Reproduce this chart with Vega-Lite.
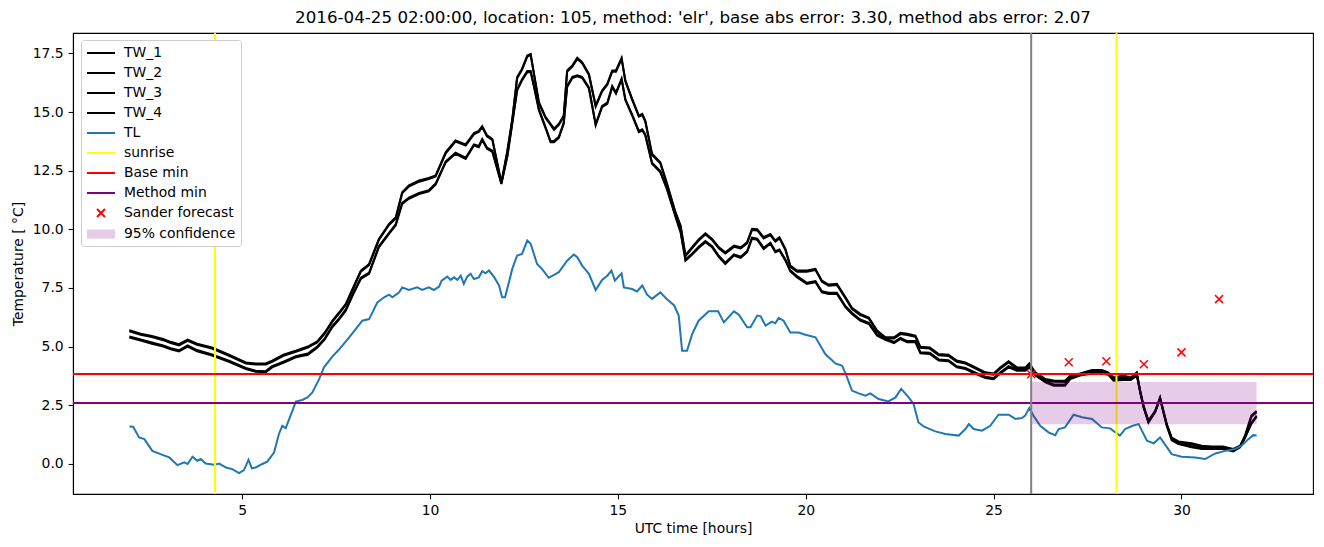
{
  "$schema": "https://vega.github.io/schema/vega-lite/v6.json",
  "width": 1240,
  "height": 461,
  "autosize": {"type": "none"},
  "padding": {"left": 73, "top": 33, "right": 11, "bottom": 53},
  "background": "white",
  "title": {
    "text": "2016-04-25 02:00:00, location: 105, method: 'elr', base abs error: 3.30, method abs error: 2.07",
    "font": "DejaVu Sans",
    "fontSize": 16.7,
    "fontWeight": "normal",
    "color": "black",
    "anchor": "middle",
    "offset": 5
  },
  "config": {
    "font": "DejaVu Sans",
    "view": {"stroke": "black", "strokeWidth": 1.1},
    "axis": {
      "grid": false,
      "labelFont": "DejaVu Sans",
      "labelFontSize": 13.9,
      "labelColor": "black",
      "titleFont": "DejaVu Sans",
      "titleFontSize": 13.9,
      "titleFontWeight": "normal",
      "titleColor": "black",
      "tickColor": "black",
      "tickSize": 4.9,
      "tickWidth": 1.1,
      "domainColor": "black",
      "domainWidth": 1.1,
      "labelPadding": 4.9
    }
  },
  "datasets": {
    "tw": [
      {"t":2.0,"TW_1":5.70,"TW_2":5.65,"TW_3":5.43,"TW_4":5.38},
      {"t":2.3,"TW_1":5.55,"TW_2":5.50,"TW_3":5.30,"TW_4":5.25},
      {"t":2.6,"TW_1":5.45,"TW_2":5.40,"TW_3":5.17,"TW_4":5.12},
      {"t":2.9,"TW_1":5.32,"TW_2":5.27,"TW_3":5.05,"TW_4":5.00},
      {"t":3.1,"TW_1":5.20,"TW_2":5.15,"TW_3":4.93,"TW_4":4.88},
      {"t":3.32,"TW_1":5.10,"TW_2":5.05,"TW_3":4.84,"TW_4":4.79},
      {"t":3.55,"TW_1":5.29,"TW_2":5.24,"TW_3":5.05,"TW_4":5.00},
      {"t":3.8,"TW_1":5.12,"TW_2":5.07,"TW_3":4.85,"TW_4":4.80},
      {"t":4.2,"TW_1":4.96,"TW_2":4.91,"TW_3":4.66,"TW_4":4.61},
      {"t":4.65,"TW_1":4.65,"TW_2":4.60,"TW_3":4.40,"TW_4":4.35},
      {"t":5.1,"TW_1":4.32,"TW_2":4.27,"TW_3":4.09,"TW_4":4.04},
      {"t":5.36,"TW_1":4.28,"TW_2":4.23,"TW_3":3.97,"TW_4":3.92},
      {"t":5.63,"TW_1":4.28,"TW_2":4.23,"TW_3":3.95,"TW_4":3.90},
      {"t":5.8,"TW_1":4.40,"TW_2":4.35,"TW_3":4.16,"TW_4":4.11},
      {"t":6.1,"TW_1":4.65,"TW_2":4.60,"TW_3":4.35,"TW_4":4.30},
      {"t":6.43,"TW_1":4.82,"TW_2":4.77,"TW_3":4.59,"TW_4":4.54},
      {"t":6.75,"TW_1":5.00,"TW_2":4.95,"TW_3":4.70,"TW_4":4.65},
      {"t":7.0,"TW_1":5.22,"TW_2":5.17,"TW_3":5.00,"TW_4":4.95},
      {"t":7.2,"TW_1":5.60,"TW_2":5.55,"TW_3":5.35,"TW_4":5.30},
      {"t":7.4,"TW_1":6.10,"TW_2":6.05,"TW_3":5.87,"TW_4":5.82},
      {"t":7.58,"TW_1":6.45,"TW_2":6.40,"TW_3":6.20,"TW_4":6.15},
      {"t":7.76,"TW_1":6.82,"TW_2":6.77,"TW_3":6.58,"TW_4":6.53},
      {"t":7.95,"TW_1":7.50,"TW_2":7.45,"TW_3":7.25,"TW_4":7.20},
      {"t":8.16,"TW_1":8.24,"TW_2":8.19,"TW_3":7.93,"TW_4":7.88},
      {"t":8.38,"TW_1":8.52,"TW_2":8.47,"TW_3":8.15,"TW_4":8.10},
      {"t":8.64,"TW_1":9.59,"TW_2":9.54,"TW_3":9.28,"TW_4":9.23},
      {"t":8.91,"TW_1":10.23,"TW_2":10.18,"TW_3":9.85,"TW_4":9.80},
      {"t":9.09,"TW_1":10.51,"TW_2":10.46,"TW_3":10.22,"TW_4":10.17},
      {"t":9.26,"TW_1":11.58,"TW_2":11.53,"TW_3":11.13,"TW_4":11.08},
      {"t":9.44,"TW_1":11.87,"TW_2":11.82,"TW_3":11.35,"TW_4":11.30},
      {"t":9.71,"TW_1":12.08,"TW_2":12.03,"TW_3":11.55,"TW_4":11.50},
      {"t":9.97,"TW_1":12.19,"TW_2":12.14,"TW_3":11.67,"TW_4":11.62},
      {"t":10.15,"TW_1":12.30,"TW_2":12.25,"TW_3":11.95,"TW_4":11.90},
      {"t":10.42,"TW_1":13.29,"TW_2":13.24,"TW_3":12.90,"TW_4":12.85},
      {"t":10.68,"TW_1":13.79,"TW_2":13.74,"TW_3":13.27,"TW_4":13.22},
      {"t":10.95,"TW_1":13.62,"TW_2":13.57,"TW_3":13.05,"TW_4":13.00},
      {"t":11.17,"TW_1":14.10,"TW_2":14.05,"TW_3":13.62,"TW_4":13.57},
      {"t":11.3,"TW_1":14.20,"TW_2":14.15,"TW_3":13.55,"TW_4":13.50},
      {"t":11.39,"TW_1":14.40,"TW_2":14.35,"TW_3":13.85,"TW_4":13.80},
      {"t":11.52,"TW_1":14.00,"TW_2":13.95,"TW_3":13.48,"TW_4":13.43},
      {"t":11.66,"TW_1":13.86,"TW_2":13.81,"TW_3":13.35,"TW_4":13.30},
      {"t":11.9,"TW_1":12.00,"TW_2":11.95,"TW_3":11.98,"TW_4":11.93},
      {"t":12.06,"TW_1":13.36,"TW_2":13.31,"TW_3":13.15,"TW_4":13.10},
      {"t":12.19,"TW_1":14.70,"TW_2":14.65,"TW_3":14.55,"TW_4":14.50},
      {"t":12.32,"TW_1":16.49,"TW_2":16.44,"TW_3":15.97,"TW_4":15.92},
      {"t":12.45,"TW_1":16.85,"TW_2":16.80,"TW_3":16.40,"TW_4":16.35},
      {"t":12.59,"TW_1":17.41,"TW_2":17.36,"TW_3":16.75,"TW_4":16.70},
      {"t":12.68,"TW_1":17.48,"TW_2":17.43,"TW_3":16.75,"TW_4":16.70},
      {"t":12.77,"TW_1":16.63,"TW_2":16.58,"TW_3":16.11,"TW_4":16.06},
      {"t":12.9,"TW_1":15.42,"TW_2":15.37,"TW_3":15.12,"TW_4":15.07},
      {"t":13.08,"TW_1":14.78,"TW_2":14.73,"TW_3":14.34,"TW_4":14.29},
      {"t":13.21,"TW_1":14.50,"TW_2":14.45,"TW_3":13.76,"TW_4":13.71},
      {"t":13.3,"TW_1":14.29,"TW_2":14.24,"TW_3":13.76,"TW_4":13.71},
      {"t":13.43,"TW_1":14.50,"TW_2":14.45,"TW_3":13.95,"TW_4":13.90},
      {"t":13.56,"TW_1":14.85,"TW_2":14.80,"TW_3":14.55,"TW_4":14.50},
      {"t":13.65,"TW_1":16.77,"TW_2":16.72,"TW_3":16.11,"TW_4":16.06},
      {"t":13.79,"TW_1":16.99,"TW_2":16.94,"TW_3":16.50,"TW_4":16.45},
      {"t":13.92,"TW_1":17.31,"TW_2":17.26,"TW_3":16.57,"TW_4":16.52},
      {"t":14.05,"TW_1":17.13,"TW_2":17.08,"TW_3":16.50,"TW_4":16.45},
      {"t":14.23,"TW_1":16.63,"TW_2":16.58,"TW_3":16.05,"TW_4":16.00},
      {"t":14.41,"TW_1":15.28,"TW_2":15.23,"TW_3":14.48,"TW_4":14.43},
      {"t":14.58,"TW_1":15.92,"TW_2":15.87,"TW_3":15.26,"TW_4":15.21},
      {"t":14.72,"TW_1":16.21,"TW_2":16.16,"TW_3":15.40,"TW_4":15.35},
      {"t":14.85,"TW_1":16.77,"TW_2":16.72,"TW_3":16.11,"TW_4":16.06},
      {"t":14.95,"TW_1":16.77,"TW_2":16.72,"TW_3":15.83,"TW_4":15.78},
      {"t":15.1,"TW_1":17.31,"TW_2":17.26,"TW_3":16.43,"TW_4":16.38},
      {"t":15.2,"TW_1":16.35,"TW_2":16.30,"TW_3":15.55,"TW_4":15.50},
      {"t":15.38,"TW_1":15.57,"TW_2":15.52,"TW_3":14.90,"TW_4":14.85},
      {"t":15.56,"TW_1":14.85,"TW_2":14.80,"TW_3":14.19,"TW_4":14.14},
      {"t":15.65,"TW_1":14.92,"TW_2":14.87,"TW_3":14.26,"TW_4":14.21},
      {"t":15.73,"TW_1":14.64,"TW_2":14.59,"TW_3":14.05,"TW_4":14.00},
      {"t":15.91,"TW_1":13.22,"TW_2":13.17,"TW_3":12.84,"TW_4":12.79},
      {"t":16.13,"TW_1":12.86,"TW_2":12.81,"TW_3":12.48,"TW_4":12.43},
      {"t":16.31,"TW_1":11.95,"TW_2":11.90,"TW_3":11.74,"TW_4":11.69},
      {"t":16.53,"TW_1":10.75,"TW_2":10.70,"TW_3":10.60,"TW_4":10.55},
      {"t":16.67,"TW_1":10.16,"TW_2":10.11,"TW_3":9.92,"TW_4":9.87},
      {"t":16.8,"TW_1":8.90,"TW_2":8.85,"TW_3":8.71,"TW_4":8.66},
      {"t":16.98,"TW_1":9.25,"TW_2":9.20,"TW_3":8.97,"TW_4":8.92},
      {"t":17.15,"TW_1":9.57,"TW_2":9.52,"TW_3":9.25,"TW_4":9.20},
      {"t":17.33,"TW_1":9.83,"TW_2":9.78,"TW_3":9.50,"TW_4":9.45},
      {"t":17.51,"TW_1":9.59,"TW_2":9.54,"TW_3":9.28,"TW_4":9.23},
      {"t":17.69,"TW_1":9.23,"TW_2":9.18,"TW_3":8.86,"TW_4":8.81},
      {"t":17.86,"TW_1":9.02,"TW_2":8.97,"TW_3":8.57,"TW_4":8.52},
      {"t":18.09,"TW_1":9.30,"TW_2":9.25,"TW_3":8.93,"TW_4":8.88},
      {"t":18.27,"TW_1":9.23,"TW_2":9.18,"TW_3":8.83,"TW_4":8.78},
      {"t":18.44,"TW_1":9.45,"TW_2":9.40,"TW_3":9.07,"TW_4":9.02},
      {"t":18.57,"TW_1":10.02,"TW_2":9.97,"TW_3":9.64,"TW_4":9.59},
      {"t":18.71,"TW_1":10.00,"TW_2":9.95,"TW_3":9.60,"TW_4":9.55},
      {"t":18.88,"TW_1":9.66,"TW_2":9.61,"TW_3":9.21,"TW_4":9.16},
      {"t":19.06,"TW_1":9.80,"TW_2":9.75,"TW_3":9.43,"TW_4":9.38},
      {"t":19.19,"TW_1":9.52,"TW_2":9.47,"TW_3":9.07,"TW_4":9.02},
      {"t":19.3,"TW_1":9.66,"TW_2":9.61,"TW_3":9.14,"TW_4":9.09},
      {"t":19.46,"TW_1":9.16,"TW_2":9.11,"TW_3":8.71,"TW_4":8.66},
      {"t":19.59,"TW_1":8.45,"TW_2":8.40,"TW_3":8.25,"TW_4":8.20},
      {"t":19.77,"TW_1":8.24,"TW_2":8.19,"TW_3":8.00,"TW_4":7.95},
      {"t":20.03,"TW_1":8.24,"TW_2":8.19,"TW_3":7.72,"TW_4":7.67},
      {"t":20.26,"TW_1":8.31,"TW_2":8.26,"TW_3":7.79,"TW_4":7.74},
      {"t":20.43,"TW_1":7.81,"TW_2":7.76,"TW_3":7.36,"TW_4":7.31},
      {"t":20.61,"TW_1":7.64,"TW_2":7.59,"TW_3":7.29,"TW_4":7.24},
      {"t":20.83,"TW_1":7.67,"TW_2":7.62,"TW_3":7.29,"TW_4":7.24},
      {"t":21.06,"TW_1":7.10,"TW_2":7.05,"TW_3":6.72,"TW_4":6.67},
      {"t":21.23,"TW_1":6.65,"TW_2":6.60,"TW_3":6.44,"TW_4":6.39},
      {"t":21.45,"TW_1":6.39,"TW_2":6.34,"TW_3":6.15,"TW_4":6.10},
      {"t":21.68,"TW_1":6.24,"TW_2":6.19,"TW_3":6.01,"TW_4":5.96},
      {"t":21.9,"TW_1":5.68,"TW_2":5.63,"TW_3":5.51,"TW_4":5.46},
      {"t":22.12,"TW_1":5.39,"TW_2":5.34,"TW_3":5.33,"TW_4":5.28},
      {"t":22.35,"TW_1":5.39,"TW_2":5.34,"TW_3":5.19,"TW_4":5.14},
      {"t":22.52,"TW_1":5.58,"TW_2":5.53,"TW_3":5.37,"TW_4":5.32},
      {"t":22.7,"TW_1":5.54,"TW_2":5.49,"TW_3":5.23,"TW_4":5.18},
      {"t":22.92,"TW_1":5.46,"TW_2":5.41,"TW_3":5.23,"TW_4":5.18},
      {"t":23.05,"TW_1":4.99,"TW_2":4.94,"TW_3":4.76,"TW_4":4.71},
      {"t":23.3,"TW_1":4.96,"TW_2":4.91,"TW_3":4.73,"TW_4":4.68},
      {"t":23.54,"TW_1":4.68,"TW_2":4.63,"TW_3":4.45,"TW_4":4.40},
      {"t":23.8,"TW_1":4.65,"TW_2":4.60,"TW_3":4.42,"TW_4":4.37},
      {"t":24.02,"TW_1":4.40,"TW_2":4.35,"TW_3":4.16,"TW_4":4.11},
      {"t":24.25,"TW_1":4.32,"TW_2":4.27,"TW_3":4.09,"TW_4":4.04},
      {"t":24.52,"TW_1":4.11,"TW_2":4.06,"TW_3":3.88,"TW_4":3.83},
      {"t":24.78,"TW_1":3.90,"TW_2":3.85,"TW_3":3.71,"TW_4":3.66},
      {"t":25.0,"TW_1":3.85,"TW_2":3.80,"TW_3":3.66,"TW_4":3.61},
      {"t":25.18,"TW_1":4.11,"TW_2":4.06,"TW_3":3.90,"TW_4":3.85},
      {"t":25.4,"TW_1":4.37,"TW_2":4.32,"TW_3":4.16,"TW_4":4.11},
      {"t":25.62,"TW_1":4.11,"TW_2":4.06,"TW_3":4.02,"TW_4":3.97},
      {"t":25.85,"TW_1":4.11,"TW_2":4.06,"TW_3":4.02,"TW_4":3.97},
      {"t":25.95,"TW_1":4.28,"TW_2":4.23,"TW_3":4.16,"TW_4":4.11},
      {"t":26.11,"TW_1":3.90,"TW_2":3.85,"TW_3":3.81,"TW_4":3.76},
      {"t":26.38,"TW_1":3.61,"TW_2":3.56,"TW_3":3.52,"TW_4":3.47},
      {"t":26.6,"TW_1":3.55,"TW_2":3.50,"TW_3":3.38,"TW_4":3.33},
      {"t":26.9,"TW_1":3.54,"TW_2":3.49,"TW_3":3.38,"TW_4":3.33},
      {"t":27.04,"TW_1":3.76,"TW_2":3.71,"TW_3":3.66,"TW_4":3.61},
      {"t":27.3,"TW_1":3.85,"TW_2":3.80,"TW_3":3.81,"TW_4":3.76},
      {"t":27.62,"TW_1":4.00,"TW_2":3.95,"TW_3":3.90,"TW_4":3.85},
      {"t":27.88,"TW_1":4.00,"TW_2":3.95,"TW_3":3.90,"TW_4":3.85},
      {"t":28.05,"TW_1":3.90,"TW_2":3.85,"TW_3":3.85,"TW_4":3.80},
      {"t":28.19,"TW_1":3.68,"TW_2":3.63,"TW_3":3.59,"TW_4":3.54},
      {"t":28.45,"TW_1":3.76,"TW_2":3.71,"TW_3":3.62,"TW_4":3.57},
      {"t":28.65,"TW_1":3.68,"TW_2":3.63,"TW_3":3.62,"TW_4":3.57},
      {"t":28.81,"TW_1":3.90,"TW_2":3.85,"TW_3":3.81,"TW_4":3.76},
      {"t":28.9,"TW_1":3.12,"TW_2":3.07,"TW_3":3.10,"TW_4":3.05},
      {"t":28.99,"TW_1":2.48,"TW_2":2.43,"TW_3":2.45,"TW_4":2.40},
      {"t":29.12,"TW_1":1.84,"TW_2":1.79,"TW_3":1.80,"TW_4":1.75},
      {"t":29.3,"TW_1":2.26,"TW_2":2.21,"TW_3":2.25,"TW_4":2.20},
      {"t":29.43,"TW_1":2.83,"TW_2":2.78,"TW_3":2.81,"TW_4":2.76},
      {"t":29.61,"TW_1":1.69,"TW_2":1.64,"TW_3":1.65,"TW_4":1.60},
      {"t":29.74,"TW_1":1.12,"TW_2":1.07,"TW_3":1.05,"TW_4":1.00},
      {"t":29.92,"TW_1":0.95,"TW_2":0.90,"TW_3":0.89,"TW_4":0.84},
      {"t":30.27,"TW_1":0.87,"TW_2":0.82,"TW_3":0.75,"TW_4":0.70},
      {"t":30.54,"TW_1":0.77,"TW_2":0.72,"TW_3":0.68,"TW_4":0.63},
      {"t":30.8,"TW_1":0.74,"TW_2":0.69,"TW_3":0.68,"TW_4":0.63},
      {"t":31.1,"TW_1":0.74,"TW_2":0.69,"TW_3":0.68,"TW_4":0.63},
      {"t":31.38,"TW_1":0.63,"TW_2":0.58,"TW_3":0.58,"TW_4":0.53},
      {"t":31.56,"TW_1":0.77,"TW_2":0.72,"TW_3":0.75,"TW_4":0.70},
      {"t":31.69,"TW_1":1.20,"TW_2":1.15,"TW_3":1.15,"TW_4":1.10},
      {"t":31.86,"TW_1":2.05,"TW_2":2.00,"TW_3":1.75,"TW_4":1.70},
      {"t":32.0,"TW_1":2.25,"TW_2":2.20,"TW_3":2.05,"TW_4":2.00}
    ],
    "tl": [
      {"t":2.0,"TL":1.59},{"t":2.1,"TL":1.58},{"t":2.26,"TL":1.12},{"t":2.4,"TL":1.05},
      {"t":2.61,"TL":0.55},{"t":2.88,"TL":0.38},{"t":3.06,"TL":0.27},{"t":3.28,"TL":-0.06},
      {"t":3.46,"TL":0.06},{"t":3.55,"TL":-0.01},{"t":3.68,"TL":0.30},{"t":3.81,"TL":0.13},
      {"t":3.9,"TL":0.20},{"t":4.03,"TL":0.01},{"t":4.26,"TL":-0.04},{"t":4.39,"TL":0.01},
      {"t":4.57,"TL":-0.16},{"t":4.74,"TL":-0.23},{"t":4.92,"TL":-0.40},{"t":5.05,"TL":-0.27},
      {"t":5.17,"TL":0.17},{"t":5.26,"TL":-0.20},{"t":5.36,"TL":-0.16},{"t":5.54,"TL":-0.01},
      {"t":5.67,"TL":0.09},{"t":5.85,"TL":0.48},{"t":5.98,"TL":1.27},{"t":6.07,"TL":1.62},
      {"t":6.16,"TL":1.52},{"t":6.29,"TL":2.05},{"t":6.43,"TL":2.65},{"t":6.6,"TL":2.72},
      {"t":6.74,"TL":2.83},{"t":6.87,"TL":3.04},{"t":7.05,"TL":3.61},{"t":7.18,"TL":4.11},
      {"t":7.4,"TL":4.57},{"t":7.58,"TL":4.87},{"t":7.85,"TL":5.39},{"t":8.2,"TL":6.10},
      {"t":8.38,"TL":6.17},{"t":8.6,"TL":6.88},{"t":8.78,"TL":7.10},{"t":8.91,"TL":7.21},
      {"t":9.0,"TL":7.10},{"t":9.18,"TL":7.31},{"t":9.26,"TL":7.52},{"t":9.44,"TL":7.41},
      {"t":9.66,"TL":7.52},{"t":9.79,"TL":7.41},{"t":9.97,"TL":7.52},{"t":10.1,"TL":7.41},
      {"t":10.24,"TL":7.55},{"t":10.31,"TL":7.81},{"t":10.46,"TL":7.98},{"t":10.55,"TL":7.84},
      {"t":10.64,"TL":7.95},{"t":10.73,"TL":7.84},{"t":10.82,"TL":8.02},{"t":10.9,"TL":7.67},
      {"t":10.99,"TL":7.98},{"t":11.08,"TL":8.10},{"t":11.17,"TL":7.88},{"t":11.3,"TL":7.95},
      {"t":11.39,"TL":8.21},{"t":11.48,"TL":8.12},{"t":11.57,"TL":8.24},{"t":11.7,"TL":7.98},
      {"t":11.84,"TL":7.60},{"t":11.92,"TL":7.10},{"t":12.0,"TL":7.10},{"t":12.19,"TL":8.31},
      {"t":12.32,"TL":8.88},{"t":12.45,"TL":8.95},{"t":12.59,"TL":9.52},{"t":12.68,"TL":9.38},
      {"t":12.85,"TL":8.52},{"t":12.98,"TL":8.31},{"t":13.16,"TL":7.93},{"t":13.43,"TL":8.17},
      {"t":13.65,"TL":8.66},{"t":13.83,"TL":8.92},{"t":13.92,"TL":8.81},{"t":14.05,"TL":8.45},
      {"t":14.23,"TL":8.10},{"t":14.41,"TL":7.41},{"t":14.58,"TL":7.84},{"t":14.72,"TL":8.02},
      {"t":14.83,"TL":8.24},{"t":14.92,"TL":7.81},{"t":15.1,"TL":8.12},{"t":15.16,"TL":7.52},
      {"t":15.38,"TL":7.45},{"t":15.51,"TL":7.35},{"t":15.65,"TL":7.60},{"t":15.78,"TL":7.21},
      {"t":15.91,"TL":7.03},{"t":16.13,"TL":7.31},{"t":16.3,"TL":7.03},{"t":16.5,"TL":6.75},
      {"t":16.62,"TL":6.32},{"t":16.71,"TL":4.82},{"t":16.84,"TL":4.82},{"t":16.98,"TL":5.54},
      {"t":17.15,"TL":6.10},{"t":17.42,"TL":6.50},{"t":17.67,"TL":6.50},{"t":17.82,"TL":6.03},
      {"t":18.09,"TL":6.50},{"t":18.22,"TL":6.36},{"t":18.44,"TL":5.82},{"t":18.53,"TL":5.82},
      {"t":18.71,"TL":6.32},{"t":18.8,"TL":6.29},{"t":18.93,"TL":5.89},{"t":19.1,"TL":6.06},
      {"t":19.19,"TL":5.99},{"t":19.28,"TL":6.22},{"t":19.41,"TL":6.10},{"t":19.59,"TL":5.60},
      {"t":19.81,"TL":5.60},{"t":19.99,"TL":5.50},{"t":20.26,"TL":5.39},{"t":20.52,"TL":4.68},
      {"t":20.79,"TL":4.28},{"t":20.97,"TL":4.18},{"t":21.1,"TL":3.68},{"t":21.23,"TL":3.12},
      {"t":21.41,"TL":3.00},{"t":21.59,"TL":2.90},{"t":21.72,"TL":3.00},{"t":21.94,"TL":2.76},
      {"t":22.2,"TL":2.66},{"t":22.39,"TL":2.83},{"t":22.54,"TL":3.19},{"t":22.74,"TL":2.83},
      {"t":22.87,"TL":2.55},{"t":23.0,"TL":1.76},{"t":23.15,"TL":1.58},{"t":23.45,"TL":1.38},
      {"t":23.72,"TL":1.27},{"t":24.07,"TL":1.20},{"t":24.25,"TL":1.48},{"t":24.34,"TL":1.69},
      {"t":24.47,"TL":1.48},{"t":24.69,"TL":1.41},{"t":24.91,"TL":1.62},{"t":25.13,"TL":2.09},
      {"t":25.4,"TL":2.09},{"t":25.58,"TL":1.91},{"t":25.75,"TL":1.95},{"t":25.84,"TL":2.05},
      {"t":25.95,"TL":2.38},{"t":26.06,"TL":2.05},{"t":26.24,"TL":1.62},{"t":26.46,"TL":1.34},
      {"t":26.64,"TL":1.22},{"t":26.73,"TL":1.48},{"t":26.9,"TL":1.55},{"t":27.13,"TL":2.09},
      {"t":27.35,"TL":1.98},{"t":27.62,"TL":1.91},{"t":27.88,"TL":1.55},{"t":28.1,"TL":1.51},
      {"t":28.36,"TL":1.20},{"t":28.5,"TL":1.48},{"t":28.7,"TL":1.62},{"t":28.86,"TL":1.69},
      {"t":29.08,"TL":0.98},{"t":29.26,"TL":0.87},{"t":29.43,"TL":1.12},{"t":29.74,"TL":0.41},
      {"t":30.0,"TL":0.30},{"t":30.36,"TL":0.27},{"t":30.63,"TL":0.20},{"t":30.9,"TL":0.44},
      {"t":31.16,"TL":0.55},{"t":31.43,"TL":0.63},{"t":31.6,"TL":0.77},{"t":31.78,"TL":1.05},
      {"t":31.91,"TL":1.22},{"t":32.0,"TL":1.20}
    ],
    "sunrise": [{"t":4.28,"series":"sunrise"},{"t":28.27,"series":"sunrise"}],
    "now": [{"t":26.0}],
    "hlines": [{"v":3.83,"series":"Base min"},{"v":2.59,"series":"Method min"}],
    "sander": [
      {"t":26,"v":3.82,"series":"Sander forecast"},
      {"t":27,"v":4.33,"series":"Sander forecast"},
      {"t":28,"v":4.37,"series":"Sander forecast"},
      {"t":29,"v":4.24,"series":"Sander forecast"},
      {"t":30,"v":4.75,"series":"Sander forecast"},
      {"t":31,"v":7.02,"series":"Sander forecast"}
    ],
    "band": [{"t0":26.0,"t1":32.0,"lo":1.68,"hi":3.49,"series":"95% confidence"}]
  },
  "layer": [
    {
      "data": {"name": "tw"},
      "transform": [{"fold": ["TW_1","TW_2","TW_3","TW_4"], "as": ["series","v"]}],
      "mark": {"type": "line", "strokeWidth": 2},
      "encoding": {
        "x": {"field": "t", "type": "quantitative", "scale": {"domain": [0.5, 33.5], "nice": false, "zero": false},
              "axis": {"values": [5,10,15,20,25,30], "format": "d", "title": "UTC time [hours]", "titlePadding": 4}},
        "y": {"field": "v", "type": "quantitative", "scale": {"domain": [-1.29, 18.37], "nice": false, "zero": false},
              "axis": {"values": [0,2.5,5,7.5,10,12.5,15,17.5], "format": ".1f", "title": "Temperature [ °C]", "titlePadding": 7}},
        "color": {
          "field": "series", "type": "nominal",
          "scale": {
            "domain": ["TW_1","TW_2","TW_3","TW_4","TL","sunrise","Base min","Method min","Sander forecast","95% confidence"],
            "range": ["black","black","black","black","#1f77b4","#ffff00","#ff0000","#800080","#ff0000","#800080"]
          },
          "legend": {
            "title": null,
            "orient": "none",
            "legendX": 8,
            "legendY": 7,
            "padding": 5,
            "fillColor": "white",
            "strokeColor": "#cccccc",
            "cornerRadius": 3,
            "labelFont": "DejaVu Sans",
            "labelFontSize": 13.9,
            "labelColor": "black",
            "labelOffset": 22,
            "rowPadding": 5,
            "symbolSize": 196,
            "symbolStrokeWidth": 2,
            "encode": {
              "symbols": {
                "update": {
                  "shape": {"signal": "datum.value === 'Sander forecast' ? 'M0.43,-0.57L1.57,0.57M1.57,-0.57L0.43,0.57' : (datum.value === '95% confidence' ? 'M-1,-0.65H3V0.65H-1Z' : 'M-1,0H3')"},
                  "fill": {"signal": "datum.value === '95% confidence' ? '#e6cce6' : 'transparent'"},
                  "fillOpacity": {"signal": "datum.value === '95% confidence' ? 0.2 : 1"},
                  "stroke": {"signal": "datum.value === '95% confidence' ? 'transparent' : scale('color', datum.value)"},
                  "strokeOpacity": {"signal": "datum.value === '95% confidence' ? 0 : 1"},
                  "opacity": {"signal": "1"}
                }
              }
            }
          }
        }
      }
    },
    {
      "data": {"name": "tl"},
      "transform": [{"fold": ["TL"], "as": ["series","v"]}],
      "mark": {"type": "line", "strokeWidth": 2},
      "encoding": {
        "x": {"field": "t", "type": "quantitative"},
        "y": {"field": "v", "type": "quantitative"},
        "color": {"field": "series", "type": "nominal"}
      }
    },
    {
      "data": {"name": "sunrise"},
      "mark": {"type": "rule", "strokeWidth": 2},
      "encoding": {
        "x": {"field": "t", "type": "quantitative"},
        "color": {"field": "series", "type": "nominal"}
      }
    },
    {
      "data": {"name": "hlines"},
      "mark": {"type": "rule", "strokeWidth": 2},
      "encoding": {
        "y": {"field": "v", "type": "quantitative"},
        "color": {"field": "series", "type": "nominal"}
      }
    },
    {
      "data": {"name": "sander"},
      "mark": {"type": "point", "shape": "M-1,-1L1,1M1,-1L-1,1", "size": 64, "filled": false, "strokeWidth": 1.5, "opacity": 1},
      "encoding": {
        "x": {"field": "t", "type": "quantitative"},
        "y": {"field": "v", "type": "quantitative"},
        "color": {"field": "series", "type": "nominal"}
      }
    },
    {
      "data": {"name": "band"},
      "mark": {"type": "rect", "fillOpacity": 0.2},
      "encoding": {
        "x": {"field": "t0", "type": "quantitative"},
        "x2": {"field": "t1"},
        "y": {"field": "lo", "type": "quantitative"},
        "y2": {"field": "hi"},
        "color": {"field": "series", "type": "nominal"}
      }
    },
    {
      "data": {"name": "now"},
      "mark": {"type": "rule", "strokeWidth": 2, "color": "#808080"},
      "encoding": {
        "x": {"field": "t", "type": "quantitative"}
      }
    }
  ]
}
